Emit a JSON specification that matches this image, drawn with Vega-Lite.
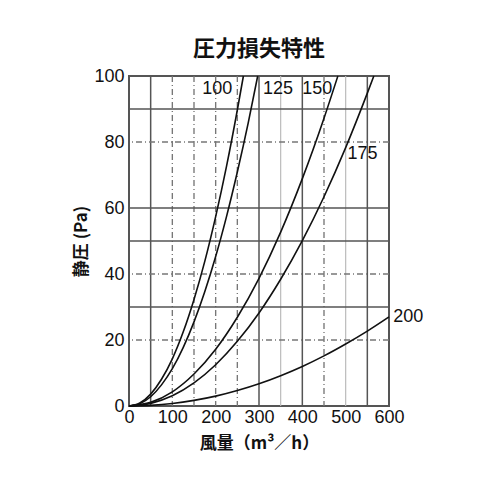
{
  "$schema": "https://vega.github.io/schema/vega-lite/v6.json",
  "autosize": "none",
  "width": 260,
  "height": 330,
  "padding": {"left": 129, "top": 76, "right": 111, "bottom": 94},
  "background": "white",
  "config": {
    "view": {"stroke": "#555", "strokeWidth": 2},
    "font": "Liberation Sans"
  },
  "title": {
    "text": "圧力損失特性",
    "font": "Noto Sans CJK JP",
    "fontSize": 22,
    "fontWeight": "bold",
    "color": "#111",
    "anchor": "middle",
    "offset": 6
  },
  "datasets": {
    "curves": [
      {"d": "100", "q": 0, "p": 0}, {"d": "100", "q": 25, "p": 0.9}, {"d": "100", "q": 50, "p": 3.6},
      {"d": "100", "q": 75, "p": 8.1}, {"d": "100", "q": 100, "p": 14.3}, {"d": "100", "q": 125, "p": 22.4},
      {"d": "100", "q": 150, "p": 32.3}, {"d": "100", "q": 175, "p": 43.9}, {"d": "100", "q": 200, "p": 57.4},
      {"d": "100", "q": 225, "p": 72.6}, {"d": "100", "q": 250, "p": 89.7}, {"d": "100", "q": 264, "p": 100},
      {"d": "125", "q": 0, "p": 0}, {"d": "125", "q": 25, "p": 0.7}, {"d": "125", "q": 50, "p": 2.8},
      {"d": "125", "q": 75, "p": 6.4}, {"d": "125", "q": 100, "p": 11.3}, {"d": "125", "q": 125, "p": 17.7},
      {"d": "125", "q": 150, "p": 25.5}, {"d": "125", "q": 175, "p": 34.7}, {"d": "125", "q": 200, "p": 45.3},
      {"d": "125", "q": 225, "p": 57.4}, {"d": "125", "q": 250, "p": 70.9}, {"d": "125", "q": 275, "p": 85.7},
      {"d": "125", "q": 297, "p": 100},
      {"d": "150", "q": 0, "p": 0}, {"d": "150", "q": 50, "p": 1.1}, {"d": "150", "q": 100, "p": 4.3},
      {"d": "150", "q": 150, "p": 9.7}, {"d": "150", "q": 200, "p": 17.2}, {"d": "150", "q": 250, "p": 26.9},
      {"d": "150", "q": 300, "p": 38.7}, {"d": "150", "q": 350, "p": 52.7}, {"d": "150", "q": 400, "p": 68.9},
      {"d": "150", "q": 450, "p": 87.2}, {"d": "150", "q": 482, "p": 100},
      {"d": "175", "q": 0, "p": 0}, {"d": "175", "q": 50, "p": 0.8}, {"d": "175", "q": 100, "p": 3.1},
      {"d": "175", "q": 150, "p": 7.0}, {"d": "175", "q": 200, "p": 12.5}, {"d": "175", "q": 250, "p": 19.6},
      {"d": "175", "q": 300, "p": 28.2}, {"d": "175", "q": 350, "p": 38.4}, {"d": "175", "q": 400, "p": 50.1},
      {"d": "175", "q": 450, "p": 63.4}, {"d": "175", "q": 500, "p": 78.3}, {"d": "175", "q": 550, "p": 94.8},
      {"d": "175", "q": 565, "p": 100},
      {"d": "200", "q": 0, "p": 0}, {"d": "200", "q": 50, "p": 0.2}, {"d": "200", "q": 100, "p": 0.75},
      {"d": "200", "q": 150, "p": 1.7}, {"d": "200", "q": 200, "p": 3.0}, {"d": "200", "q": 250, "p": 4.7},
      {"d": "200", "q": 300, "p": 6.75}, {"d": "200", "q": 350, "p": 9.2}, {"d": "200", "q": 400, "p": 12.0},
      {"d": "200", "q": 450, "p": 15.2}, {"d": "200", "q": 500, "p": 18.8}, {"d": "200", "q": 550, "p": 22.7},
      {"d": "200", "q": 600, "p": 27.0}
    ],
    "labels": [
      {"d": "100", "q": 169, "p": 96},
      {"d": "125", "q": 309, "p": 96},
      {"d": "150", "q": 400, "p": 96},
      {"d": "175", "q": 504, "p": 76.5},
      {"d": "200", "q": 610, "p": 27}
    ],
    "vgrid": [
      {"q": 50, "kind": "major"}, {"q": 100, "kind": "minor"}, {"q": 150, "kind": "minor"},
      {"q": 200, "kind": "minor"}, {"q": 250, "kind": "minor"}, {"q": 300, "kind": "major"},
      {"q": 350, "kind": "band"}, {"q": 400, "kind": "major"}, {"q": 450, "kind": "minor"},
      {"q": 500, "kind": "band"}, {"q": 550, "kind": "major"}
    ],
    "hgrid": [
      {"p": 20, "kind": "minor"}, {"p": 30, "kind": "major"}, {"p": 40, "kind": "minor"},
      {"p": 50, "kind": "major"}, {"p": 60, "kind": "major"}, {"p": 80, "kind": "minor"},
      {"p": 90, "kind": "major"}
    ]
  },
  "layer": [
    {
      "data": {"name": "vgrid"},
      "mark": {"type": "rule"},
      "encoding": {
        "x": {"field": "q", "type": "quantitative", "scale": {"domain": [0, 600]}},
        "color": {"field": "kind", "type": "nominal", "legend": null,
          "scale": {"domain": ["major", "minor", "band"], "range": ["#555", "#777", "#bbb"]}},
        "strokeDash": {"field": "kind", "type": "nominal", "legend": null,
          "scale": {"domain": ["major", "minor", "band"], "range": [[1, 0], [6, 3, 1, 3], [1, 0]]}},
        "strokeWidth": {"field": "kind", "type": "nominal", "legend": null,
          "scale": {"domain": ["major", "minor", "band"], "range": [1.5, 1.2, 3.5]}}
      }
    },
    {
      "data": {"name": "hgrid"},
      "mark": {"type": "rule"},
      "encoding": {
        "y": {"field": "p", "type": "quantitative", "scale": {"domain": [0, 100]}},
        "color": {"field": "kind", "type": "nominal", "legend": null},
        "strokeDash": {"field": "kind", "type": "nominal", "legend": null},
        "strokeWidth": {"field": "kind", "type": "nominal", "legend": null}
      }
    },
    {
      "data": {"name": "curves"},
      "mark": {"type": "line", "color": "#111", "strokeWidth": 1.6, "interpolate": "monotone"},
      "encoding": {
        "x": {"field": "q", "type": "quantitative",
          "scale": {"domain": [0, 600]},
          "axis": {"values": [0, 100, 200, 300, 400, 500, 600], "grid": false, "ticks": false, "domain": false,
            "labelFontSize": 18, "labelColor": "#111", "labelPadding": 2,
            "labelOverlap": false, "labelFlush": false,
            "title": "風量（m³／h）", "titleFont": "Noto Sans CJK JP", "titleFontSize": 17,
            "titleFontWeight": "bold", "titleColor": "#111", "titlePadding": 9}},
        "y": {"field": "p", "type": "quantitative",
          "scale": {"domain": [0, 100]},
          "axis": {"values": [0, 20, 40, 60, 80, 100], "grid": false, "ticks": false, "domain": false,
            "labelFontSize": 18, "labelColor": "#111", "labelPadding": 5,
            "labelOverlap": false, "labelFlush": false,
            "title": "静圧 (Pa)", "titleFont": "Noto Sans CJK JP", "titleFontSize": 17,
            "titleFontWeight": "bold", "titleColor": "#111", "titlePadding": 3}},
        "detail": {"field": "d", "type": "nominal"}
      }
    },
    {
      "data": {"name": "labels"},
      "mark": {"type": "text", "align": "left", "baseline": "middle", "fontSize": 18, "color": "#111", "font": "Liberation Sans"},
      "encoding": {
        "x": {"field": "q", "type": "quantitative"},
        "y": {"field": "p", "type": "quantitative"},
        "text": {"field": "d", "type": "nominal"}
      }
    }
  ]
}
